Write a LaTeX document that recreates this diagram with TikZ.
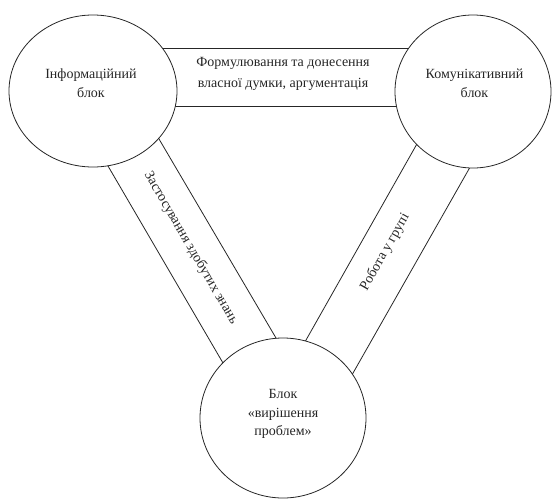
\documentclass[tikz,border=0pt]{standalone}
\usepackage{fontspec}
\setmainfont{Liberation Serif}
\usetikzlibrary{shapes.geometric}
\begin{document}
\begin{tikzpicture}[x=1pt,y=-1pt,
  blob/.style={ellipse, draw=black!85, line width=0.8pt, fill=white, inner sep=0pt},
  bandline/.style={draw=black!85, line width=0.8pt},
  lbl/.style={font=\fontsize{14}{19}\selectfont, align=center, text=black!85, inner sep=0pt}]
\useasboundingbox (0,0) rectangle (552,499);
% band end points (inside the circles, hidden by the white fill)
\coordinate (t1a) at (140,48);   \coordinate (t1b) at (420,48);
\coordinate (t2a) at (140,106);  \coordinate (t2b) at (420,106);
\coordinate (l1a) at (96.5,146.3);  \coordinate (l1b) at (234.5,382.7);
\coordinate (l2a) at (147.3,119.1); \coordinate (l2b) at (287.7,357.9);
\coordinate (r1a) at (428.6,123.3); \coordinate (r1b) at (294.9,359.7);
\coordinate (r2a) at (481.2,147.5); \coordinate (r2b) at (341.4,393.5);
\draw[bandline] (t1a) -- (t1b);
\draw[bandline] (t2a) -- (t2b);
\draw[bandline] (l1a) -- (l1b);
\draw[bandline] (l2a) -- (l2b);
\draw[bandline] (r1a) -- (r1b);
\draw[bandline] (r2a) -- (r2b);
% circles
\node[blob, minimum width=168pt, minimum height=152pt] (info) at (93,91) {};
\node[blob, minimum width=156pt, minimum height=153pt] (komm) at (473,91.5) {};
\node[blob, minimum width=166pt, minimum height=160pt] (prob) at (283,418) {};
% texts
\node[lbl] (infot) at (91,83) {Інформаційний\\блок};
\node[lbl] (kommt) at (474.5,83.5) {Комунікативний\\блок};
\node[lbl, font=\fontsize{14}{18.5}\selectfont] (probt) at (283,414) {Блок\\«вирішення\\проблем»};
\node[lbl, font=\fontsize{14}{21}\selectfont] (topt) at (283,74) {Формулювання та донесення\\власної думки, аргументація};
\node[lbl, rotate=-59.8] (leftt) at (191,248) {Застосування здобутих знань};
\node[lbl, rotate=60.5] (rightt) at (385,252) {Робота у групі};
\end{tikzpicture}
\end{document}
